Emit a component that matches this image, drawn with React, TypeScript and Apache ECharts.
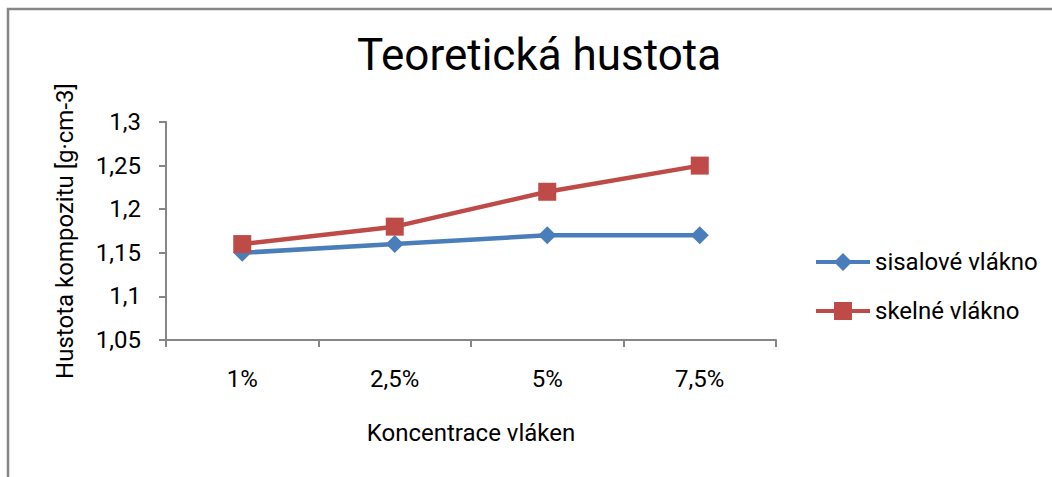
import React, { useEffect, useRef } from "react";
import * as echarts from "echarts";

const categories = ["1%", "2,5%", "5%", "7,5%"];
const sisalValues = [1.15, 1.16, 1.17, 1.17];
const skelneValues = [1.16, 1.18, 1.22, 1.25];
const seriesNames = ["sisalové vlákno", "skelné vlákno"];
const titleText = "Teoretická hustota";
const xAxisName = "Koncentrace vláken";
const yAxisName = "Hustota kompozitu [g·cm-3]";

const FONT = "Roboto, 'Liberation Sans', Arial, sans-serif";
const BLUE = "#4A7EBB";
const RED = "#BE4B48";

const diamondIcon = "path://M0,7H54V11H0Z M27,0L36,9L27,18L18,9Z";
const squareIcon = "path://M0,7H54V11H0Z M18,0H36V18H18Z";

export default function App() {
  const ref = useRef<HTMLDivElement>(null);
  useEffect(() => {
    if (!ref.current) return;
    const chart = echarts.init(ref.current, null, { renderer: "svg" });
    chart.setOption({
      animation: false,
      backgroundColor: "#ffffff",
      textStyle: { fontFamily: FONT },
      title: {
        text: titleText,
        left: 534,
        top: 28,
        textAlign: "center",
        textStyle: { fontFamily: FONT, fontSize: 44, fontWeight: "normal", color: "#000" },
      },
      graphic: [
        {
          type: "rect",
          shape: { x: 8, y: 9, width: 1200, height: 600 },
          style: { fill: "none", stroke: "#868686", lineWidth: 2.5 },
          silent: true,
        },
      ],
      legend: {
        orient: "vertical",
        left: 816,
        top: 250,
        padding: 0,
        itemWidth: 54,
        itemHeight: 18,
        itemGap: 25,
        textStyle: { fontFamily: FONT, fontSize: 24, lineHeight: 18, color: "#000", padding: [0, 0, 0, 0] },
        data: [
          { name: seriesNames[0], icon: diamondIcon, itemStyle: { color: BLUE } },
          { name: seriesNames[1], icon: squareIcon, itemStyle: { color: RED } },
        ],
      },
      grid: { left: 166, top: 122, width: 610, height: 218, containLabel: false },
      xAxis: {
        type: "category",
        data: categories,
        boundaryGap: true,
        name: xAxisName,
        nameLocation: "middle",
        nameGap: 81,
        nameTextStyle: { fontFamily: FONT, fontSize: 24, color: "#000" },
        axisLine: { lineStyle: { color: "#868686", width: 2 } },
        axisTick: { show: true, length: 7, lineStyle: { color: "#868686", width: 2 } },
        axisLabel: { fontFamily: FONT, fontSize: 24, color: "#000", margin: 27 },
        splitLine: { show: false },
      },
      yAxis: {
        type: "value",
        min: 1.05,
        max: 1.3,
        interval: 0.05,
        name: yAxisName,
        nameLocation: "middle",
        nameGap: 89,
        nameTextStyle: { fontFamily: FONT, fontSize: 24, color: "#000" },
        axisLine: { show: true, lineStyle: { color: "#868686", width: 2 } },
        axisTick: { show: true, length: 7, lineStyle: { color: "#868686", width: 2 } },
        axisLabel: {
          fontFamily: FONT,
          fontSize: 24,
          color: "#000",
          margin: 25,
          formatter: (v: number) => String(+v.toFixed(2)).replace(".", ","),
        },
        splitLine: { show: false },
      },
      series: [
        {
          name: seriesNames[0],
          type: "line",
          data: sisalValues,
          symbol: "diamond",
          symbolSize: 18,
          lineStyle: { color: BLUE, width: 4.5 },
          itemStyle: { color: BLUE },
        },
        {
          name: seriesNames[1],
          type: "line",
          data: skelneValues,
          symbol: "rect",
          symbolSize: 18,
          lineStyle: { color: RED, width: 4.5 },
          itemStyle: { color: RED },
        },
      ],
    });
    return () => chart.dispose();
  }, []);
  return (
    <div
      ref={ref}
      style={{ position: "fixed", left: 0, top: 0, width: 1052, height: 477 }}
    />
  );
}
